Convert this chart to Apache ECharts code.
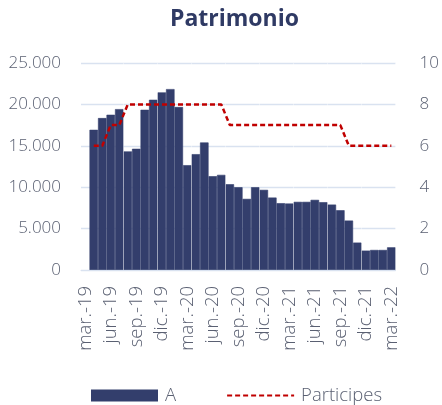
<!DOCTYPE html>
<html>
<head>
<meta charset="utf-8">
<script src="https://cdn.jsdelivr.net/npm/echarts@6/dist/echarts.min.js"></script>
<style>
  html, body { margin: 0; padding: 0; background: #ffffff; }
  #chart { width: 442px; height: 405px; }
</style>
</head>
<body>
<div id="chart"></div>
<script>
const categories = [
  'mar.-19','abr.-19','may.-19','jun.-19','jul.-19','ago.-19','sep.-19','oct.-19','nov.-19','dic.-19',
  'ene.-20','feb.-20','mar.-20','abr.-20','may.-20','jun.-20','jul.-20','ago.-20','sep.-20','oct.-20',
  'nov.-20','dic.-20','ene.-21','feb.-21','mar.-21','abr.-21','may.-21','jun.-21','jul.-21','ago.-21',
  'sep.-21','oct.-21','nov.-21','dic.-21','ene.-22','feb.-22','mar.-22'
];
const patrimonioA = [
  null, 16930, 18350, 18750, 19430, 14320, 14640, 19350, 20560, 21450,
  21850, 19680, 12660, 13990, 15400, 11330, 11490, 10360, 10000, 8590,
  10000, 9680, 8750, 8070, 8030, 8230, 8230, 8470, 8190, 7900,
  7220, 5970, 3310, 2340, 2420, 2420, 2740
];
const participes = [
  null, 6, 6, 7, 7, 8, 8, 8, 8, 8,
  8, 8, 8, 8, 8, 8, 8, 7, 7, 7,
  7, 7, 7, 7, 7, 7, 7, 7, 7, 7,
  7, 6, 6, 6, 6, 6, 6
];
const leftTicks = { min: 0, max: 25000, interval: 5000 };
const rightTicks = { min: 0, max: 10, interval: 2 };

const FONT = '"Open Sans", "Segoe UI", sans-serif';
const LABEL_COLOR = '#5A6072';
const chart = echarts.init(document.getElementById('chart'), null, { renderer: 'canvas' });
chart.setOption({
  backgroundColor: '#ffffff',
  animation: false,
  title: {
    text: 'Patrimonio',
    left: 165, top: 3,
    textStyle: { fontFamily: FONT, fontWeight: 'bold', fontSize: 23, color: '#2F3A64' }
  },
  legend: {
    left: 86, top: 381,
    itemWidth: 67, itemHeight: 12, itemGap: 50,
    textStyle: { fontFamily: FONT, fontWeight: 300, fontSize: 18.5, color: LABEL_COLOR, padding: [0,0,0,2] },
    data: [
      { name: 'A', icon: 'rect', itemStyle: { borderWidth: 0 } },
      { name: 'Participes', itemStyle: { opacity: 0 } }
    ]
  },
  grid: { left: 81, right: 40, top: 63, bottom: 135, containLabel: false },
  xAxis: {
    type: 'category',
    data: categories,
    z: 5,
    boundaryGap: true,
    axisTick: { show: false },
    axisLine: { show: true, lineStyle: { color: '#D9E2F0', width: 1 } },
    axisLabel: {
      interval: 2, rotate: 90, margin: 16,
      fontFamily: FONT, fontWeight: 300, fontSize: 18.5, color: LABEL_COLOR
    },
    splitLine: {
      show: true,
      interval: function (idx) { return idx >= 5 && (idx - 1) % 4 === 0; },
      lineStyle: { color: 'rgba(255,255,255,0.4)', width: 1 }
    }
  },
  yAxis: [
    {
      type: 'value', min: leftTicks.min, max: leftTicks.max, interval: leftTicks.interval,
      axisLine: { show: false }, axisTick: { show: false },
      axisLabel: {
        margin: 20, fontFamily: FONT, fontWeight: 300, fontSize: 17, color: LABEL_COLOR,
        formatter: function (v) { return v.toString().replace(/\B(?=(\d{3})+(?!\d))/g, '.'); }
      },
      splitLine: { show: true, lineStyle: { color: '#D9E2F0', width: 1.3 } }
    },
    {
      type: 'value', min: rightTicks.min, max: rightTicks.max, interval: rightTicks.interval,
      position: 'right',
      axisLine: { show: false }, axisTick: { show: false },
      axisLabel: { margin: 24, fontFamily: FONT, fontWeight: 300, fontSize: 17, color: LABEL_COLOR },
      splitLine: { show: false }
    }
  ],
  series: [
    {
      name: 'A', type: 'bar', yAxisIndex: 0,
      data: patrimonioA,
      barCategoryGap: '0%', barGap: '0%',
      itemStyle: { color: '#333E6C', borderColor: '#333E6C', borderWidth: 0.6 }
    },
    {
      name: 'Participes', type: 'line', yAxisIndex: 1,
      data: participes,
      symbol: 'none', z: 6,
      lineStyle: { color: '#C00000', width: 2.5, type: [5, 3] },
      itemStyle: { color: '#C00000' }
    }
  ]
});
</script>
</body>
</html>
